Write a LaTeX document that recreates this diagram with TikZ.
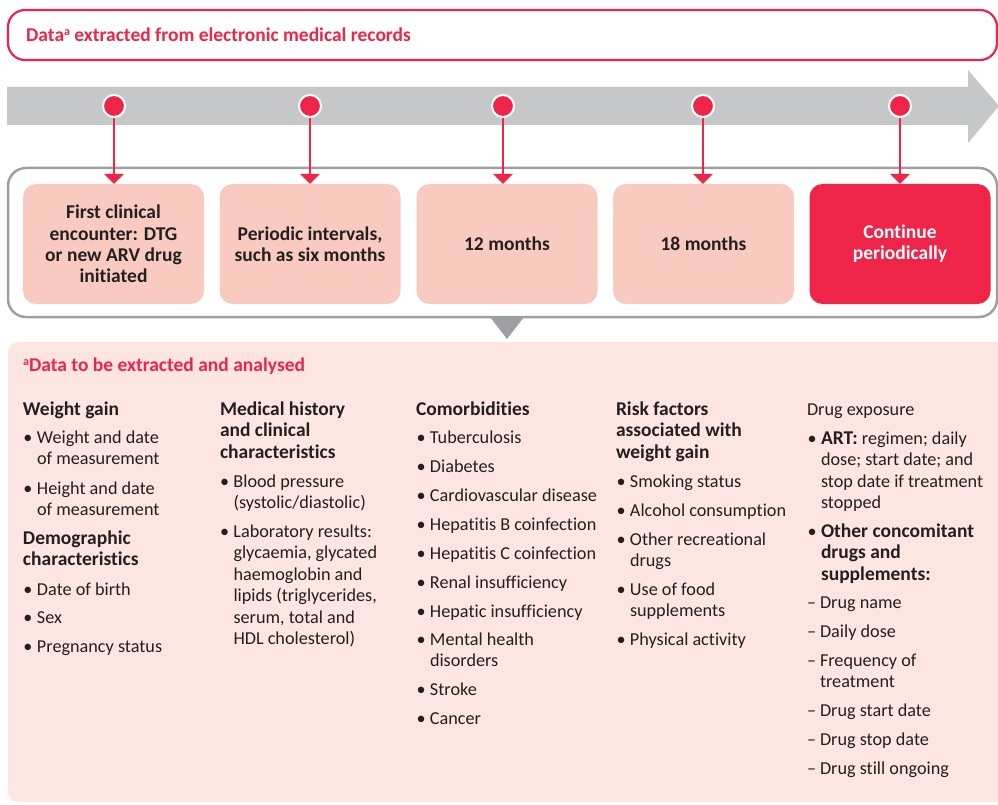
\documentclass[tikz,border=0pt]{standalone}
\usepackage{fontspec}
\setmainfont{Carlito}[Ligatures=NoCommon]
\usetikzlibrary{arrows.meta}
\definecolor{ared}{HTML}{EE2449}
\definecolor{pinkbox}{HTML}{F9CAC0}
\definecolor{panel}{HTML}{FDE6E1}
\definecolor{arrowgray}{HTML}{C6C7C8}
\definecolor{linegray}{HTML}{9D9FA2}
\definecolor{ink}{HTML}{231F20}
\newcommand\myfl{\rule{0pt}{14pt}}
\newcommand\mybu{\rule{0pt}{14pt}\llap{\makebox[13.5pt][l]{\fontsize{18.2}{21.5}\selectfont\mdseries •}}}
\newcommand\mydsh{\rule{0pt}{14pt}\llap{\makebox[13pt][l]{–}}}
\newcommand\mybf{\fontsize{19.5}{21.5}\selectfont\bfseries}
\newcommand\mysup[1]{\raisebox{6pt}{\fontsize{12}{12}\selectfont #1}}
\begin{document}
\begin{tikzpicture}[x=1pt,y=-1pt,
  body/.style={anchor=north west, inner sep=0pt, outer sep=0pt, align=left, yshift=14pt,
    font=\fontsize{18.2}{21.5}\selectfont, text=ink},
  hd/.style={body, font=\mybf},
  stage/.style={rounded corners=13pt, fill=pinkbox, minimum width=181pt, minimum height=120pt,
    inner sep=0pt, align=center, text=ink, font=\fontsize{19.5}{21.3}\selectfont\bfseries},
  dot/.style={circle, fill=ared, draw=white, line width=2pt, minimum size=22pt, inner sep=0pt},
  conn/.style={draw=ared, line width=1.3pt, -{Triangle[width=20pt,length=10pt]}}]
\useasboundingbox (0,0) rectangle (998,805);
\clip (0,0) rectangle (998,805);

% title box
\draw[ared, line width=2.2pt, rounded corners=17pt] (8,10) rectangle (997,60);
\node[anchor=base west, inner sep=0pt, text=ared, font=\fontsize{19.5}{20}\selectfont\bfseries] (title) at (26,42)
  {Data\mysup{a} extracted from electronic medical records};

% timeline arrow
\fill[arrowgray] (7,87) -- (968,87) -- (968,70) -- (999,106) -- (968,143) -- (968,125) -- (7,125) -- cycle;

% outline box
\draw[linegray, line width=2.5pt, rounded corners=18pt] (8,168) rectangle (997,317);
\fill[linegray] (490,317) -- (524,317) -- (507,339) -- cycle;

% stages
\node[stage] (b1) at (113.5,244) {First clinical\\encounter: DTG\\or new ARV drug\\initiated};
\node[stage] (b2) at (310,244) {Periodic intervals,\\such as six months};
\node[stage] (b3) at (507,244) {12 months};
\node[stage] (b4) at (703.5,244) {18 months};
\node[stage, fill=ared, text=white] (b5) at (900,244) {Continue\\periodically};

% dots and connectors
\node[dot] (d1) at (114,106) {};
\node[dot] (d2) at (310,106) {};
\node[dot] (d3) at (503,106) {};
\node[dot] (d4) at (703,106) {};
\node[dot] (d5) at (900,106) {};
\draw[conn] (d1) -- (d1 |- b1.north);
\draw[conn] (d2) -- (d2 |- b2.north);
\draw[conn] (d3) -- (d3 |- b3.north);
\draw[conn] (d4) -- (d4 |- b4.north);
\draw[conn] (d5) -- (d5 |- b5.north);

% panel
\fill[panel, rounded corners=10pt] (8,342) rectangle (1010,802);
\node[anchor=base west, inner sep=0pt, text=ared, font=\fontsize{19.5}{20}\selectfont\bfseries] (ptitle) at (23,371)
  {\mysup{a}Data to be extracted and analysed};

% column 1
\node[hd] (c1h1) at (23,415) {\myfl Weight gain};
\node[body] (c1b1) at (37,443) {\mybu Weight and date\\of measurement};
\node[body] (c1b2) at (37,494) {\mybu Height and date\\of measurement};
\node[hd] (c1h2) at (23,544) {\myfl Demographic\\characteristics};
\node[body] (c1b3) at (37,595) {\mybu Date of birth};
\node[body] (c1b4) at (37,623) {\mybu Sex};
\node[body] (c1b5) at (37,652) {\mybu Pregnancy status};

% column 2
\node[hd] (c2h1) at (220,415) {\myfl Medical history\\and clinical\\characteristics};
\node[body] (c2b1) at (233.5,487) {\mybu Blood pressure\\(systolic/diastolic)};
\node[body] (c2b2) at (233.5,537) {\mybu Laboratory results:\\glycaemia, glycated\\haemoglobin and\\lipids (triglycerides,\\serum, total and\\HDL cholesterol)};

% column 3
\node[hd] (c3h1) at (416,415) {\myfl Comorbidities};
\node[body] (c3b1) at (430,443) {\mybu Tuberculosis};
\node[body] (c3b2) at (430,472) {\mybu Diabetes};
\node[body] (c3b3) at (430,501) {\mybu Cardiovascular disease};
\node[body] (c3b4) at (430,530) {\mybu Hepatitis B coinfection};
\node[body] (c3b5) at (430,559) {\mybu Hepatitis C coinfection};
\node[body] (c3b6) at (430,588) {\mybu Renal insufficiency};
\node[body] (c3b7) at (430,617) {\mybu Hepatic insufficiency};
\node[body] (c3b8) at (430,645) {\mybu Mental health\\disorders};
\node[body] (c3b9) at (430,695) {\mybu Stroke};
\node[body] (c3b10) at (430,724) {\mybu Cancer};

% column 4
\node[hd] (c4h1) at (616,415) {\myfl Risk factors\\associated with\\weight gain};
\node[body] (c4b1) at (630,487) {\mybu Smoking status};
\node[body] (c4b2) at (630,516) {\mybu Alcohol consumption};
\node[body] (c4b3) at (630,545) {\mybu Other recreational\\drugs};
\node[body] (c4b4) at (630,595) {\mybu Use of food\\supplements};
\node[body] (c4b5) at (630,645) {\mybu Physical activity};

% column 5
\node[body] (c5h1) at (807,415) {\myfl Drug exposure};
\node[body] (c5b1) at (821,444) {\mybu{\mybf ART:} regimen; daily\\dose; start date; and\\stop date if treatment\\stopped};
\node[hd] (c5b2) at (821,537) {\mybu Other concomitant\\drugs and\\supplements:};
\node[body] (c5d1) at (820,608) {\mydsh Drug name};
\node[body] (c5d2) at (820,637) {\mydsh Daily dose};
\node[body] (c5d3) at (820,666) {\mydsh Frequency of\\treatment};
\node[body] (c5d4) at (820,716) {\mydsh Drug start date};
\node[body] (c5d5) at (820,745) {\mydsh Drug stop date};
\node[body] (c5d6) at (820,774) {\mydsh Drug still ongoing};
\end{tikzpicture}
\end{document}
